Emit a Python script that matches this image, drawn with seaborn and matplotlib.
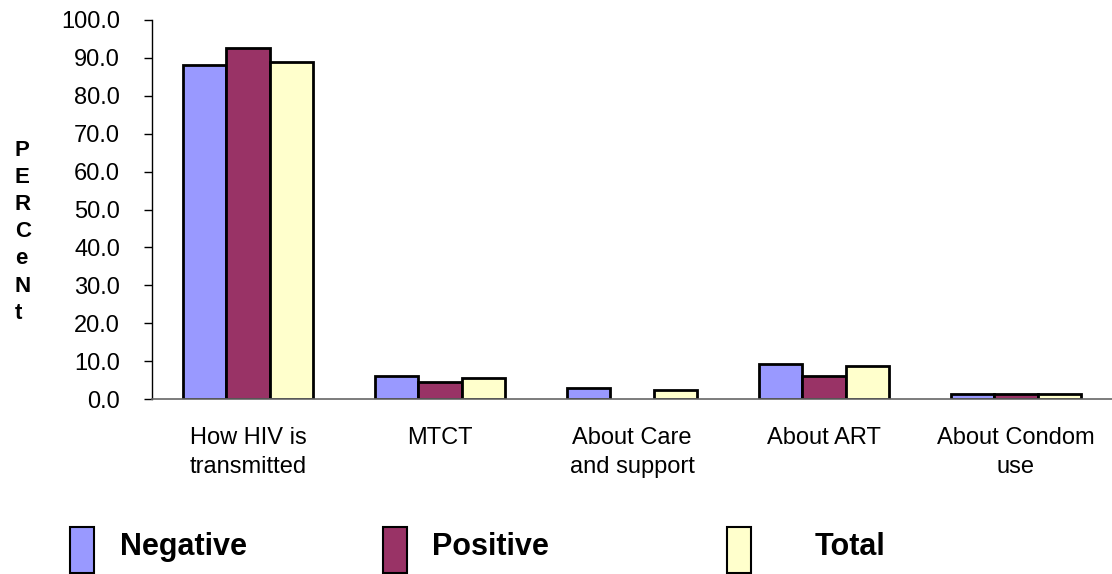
import matplotlib
matplotlib.use("Agg")
import matplotlib.pyplot as plt
from matplotlib.patches import Rectangle
import seaborn as sns
import pandas as pd

# Topics of HIV information received, by HIV test result (percent)
categories = ["How HIV is\ntransmitted", "MTCT", "About Care\nand support",
              "About ART", "About Condom\nuse"]
negative = [88.2, 6.1, 3.0, 9.2, 1.4]
positive = [92.5, 4.4, 0.0, 6.1, 1.4]
total = [88.9, 5.6, 2.3, 8.8, 1.4]
groups = ["Negative", "Positive", "Total"]
colors = ["#9999FF", "#993366", "#FFFFCC"]
yticks = [0, 10, 20, 30, 40, 50, 60, 70, 80, 90, 100]

df = pd.DataFrame({
    "topic": categories * 3,
    "group": [g for g in groups for _ in categories],
    "percent": negative + positive + total,
})

sns.set_style("white")
plt.rcParams["font.family"] = ["Liberation Sans", "DejaVu Sans"]
plt.rcParams["text.color"] = "black"
plt.rcParams["xtick.color"] = "black"
plt.rcParams["ytick.color"] = "black"

fig = plt.figure(figsize=(11.12, 5.74), dpi=100)
ax = fig.add_axes([152 / 1112, 1 - 399 / 574, 1 - 152 / 1112, (399 - 20) / 574])

sns.barplot(data=df, x="topic", y="percent", hue="group", order=categories,
            hue_order=groups, palette=colors, width=0.68, gap=0,
            edgecolor="black", linewidth=2.0, saturation=1, legend=False, ax=ax)

# Empty bars get no outline
for p in ax.patches:
    if p.get_height() == 0:
        p.set_linewidth(0)

ax.set_xlim(-0.5, 4.5)
ax.set_ylim(0, 100)
ax.set_yticks(yticks)
ax.set_yticklabels([f"{v:.1f}" for v in yticks])
ax.set_xlabel("")
ax.set_ylabel("")

for side in ["top", "right"]:
    ax.spines[side].set_visible(False)
ax.spines["left"].set_color("black")
ax.spines["left"].set_linewidth(1.0)
ax.spines["bottom"].set_color("#666666")
ax.spines["bottom"].set_linewidth(1.2)

# Category labels sit between boundary ticks
ax.set_xticks(range(len(categories)))
ax.set_xticklabels(categories, fontsize=17, linespacing=1.45)
ax.tick_params(axis="x", length=0, pad=20)
ax.set_xticks([i - 0.5 for i in range(len(categories))], minor=True)
ax.tick_params(axis="x", which="minor", length=7, width=1.2, color="#666666",
               direction="out")
ax.tick_params(axis="y", labelsize=17, length=6, width=1.0, color="black",
               direction="out", pad=17, left=True)

# Stacked vertical axis title
for i, ch in enumerate("PERCeNt"):
    fig.text(15 / 1112, 1 - (150 + i * 27.2) / 574, ch, fontsize=16,
             fontweight="bold", ha="left", va="center")

# Legend row along the bottom
legend_items = [(70, 120), (383, 432), (727, 815)]
for (px, tx), name, col in zip(legend_items, groups, colors):
    fig.patches.append(Rectangle((px / 1112, 1 - 573 / 574), 24 / 1112, 46 / 574,
                                 transform=fig.transFigure, facecolor=col,
                                 edgecolor="black", linewidth=1.5))
    fig.text(tx / 1112, 1 - 547 / 574, name, fontsize=22, fontweight="bold",
             ha="left", va="center")

fig.savefig("out.png", dpi=100)
